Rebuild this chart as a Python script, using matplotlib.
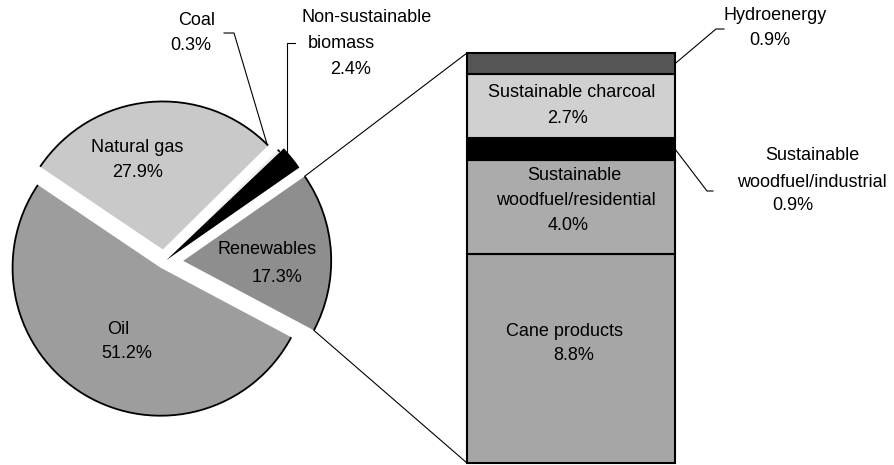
import numpy as np
import matplotlib.pyplot as plt
from matplotlib.patches import Arc, ConnectionPatch

plt.rcParams['font.family'] = ['Liberation Sans', 'DejaVu Sans']

# pie: total energy supply
pie_labels = ['Natural gas', 'Coal', 'Non-sustainable biomass', 'Renewables', 'Oil']
pie_values = [27.9, 0.3, 2.4, 17.3, 51.2]
pie_colors = ['#c9c9c9', '#eeeeee', '#000000', '#8e8e8e', '#9d9d9d']

# bar: breakdown of renewables, bottom to top
bar_labels = ['Cane products', 'Sustainable woodfuel/residential',
              'Sustainable woodfuel/industrial', 'Sustainable charcoal', 'Hydroenergy']
bar_values = [8.8, 4.0, 0.9, 2.7, 0.9]
bar_colors = ['#a6a6a6', '#ababab', '#000000', '#d0d0d0', '#555555']

W, H = 894, 465
def py(y):
    return H - y

fig = plt.figure(figsize=(W / 100, H / 100), dpi=100)
ax = fig.add_axes([0, 0, 1, 1])
ax.set_zorder(2)

R = 148
explode = np.array([0.085, 0.08, 0.02, 0.13, 0.045]) * R
wedges, _ = ax.pie(pie_values, explode=explode, colors=pie_colors, startangle=146,
                   counterclock=False, radius=R, center=(164, py(262)),
                   wedgeprops=dict(linewidth=0))
wedges[2].set_radius(R * 1.09)
for w in wedges:
    ax.add_patch(Arc(w.center, 2 * w.r, 2 * w.r, theta1=w.theta1, theta2=w.theta2,
                     color='black', lw=1.3))
ax.set_xlim(0, W)
ax.set_ylim(0, H)
ax.axis('off')

# stacked bar
axb = fig.add_axes([467 / W, (H - 463) / H, (675 - 467) / W, (463 - 53) / H])
axb.set_zorder(1)
total = sum(bar_values)
bottoms = np.concatenate([[0], np.cumsum(bar_values)[:-1]])
bars = axb.bar(0.5, bar_values, width=1, bottom=bottoms, color=bar_colors,
               edgecolor='black', linewidth=1.5)
for b in bars:
    b.set_clip_on(False)
axb.set_xlim(0, 1)
axb.set_ylim(0, total)
axb.axis('off')

# connectors from renewables wedge to bar
rw = wedges[3]
cx, cy = rw.center
top = (cx + rw.r * np.cos(np.radians(rw.theta2)), cy + rw.r * np.sin(np.radians(rw.theta2)))
bot = (cx + rw.r * np.cos(np.radians(rw.theta1)), cy + rw.r * np.sin(np.radians(rw.theta1)))
for a, b in [(top, (0, total)), (bot, (0, 0))]:
    fig.add_artist(ConnectionPatch(xyA=a, coordsA=ax.transData, xyB=b, coordsB=axb.transData,
                                   color='black', lw=0.8))

def bar_edge(y):
    return ax.transData.inverted().transform(axb.transData.transform((1, y)))

lk = dict(color='black', lw=0.8)
# leader lines
ax.plot([224, 234, 267], [py(33), py(33), py(144)], **lk)
ax.plot([295, 287, 287], [py(43), py(43), py(157)], **lk)
p = bar_edge(total - bar_values[4] / 2)
ax.plot([p[0], 716, 724], [p[1], py(29), py(29)], **lk)
p = bar_edge(bottoms[2] + bar_values[2] / 2)
ax.plot([p[0], 707, 713], [p[1], py(191), py(191)], **lk)

fs = 13
def lines(items):
    for t, x, y in items:
        ax.text(x, py(y), t, ha='center', va='center', fontsize=fs)

lines([('Coal', 197, 20), ('0.3%', 191, 45)])
lines([('Non-sustainable', 367, 17), ('biomass', 341, 43), ('2.4%', 351, 69)])
lines([('Natural gas', 137, 147), ('27.9%', 138, 172)])
lines([('Renewables', 267, 249), ('17.3%', 277, 278)])
lines([('Oil', 118, 329), ('51.2%', 127, 354)])
lines([('Hydroenergy', 775, 15), ('0.9%', 770, 40)])
lines([('Sustainable', 812, 155), ('woodfuel/industrial', 812, 182), ('0.9%', 793, 205)])
lines([('Sustainable charcoal', 572, 92), ('2.7%', 567, 118)])
lines([('Sustainable', 574, 175), ('woodfuel/residential', 576, 200), ('4.0%', 568, 225)])
lines([('Cane products', 564, 332), ('8.8%', 574, 356)])

fig.savefig('out.png', dpi=100)
